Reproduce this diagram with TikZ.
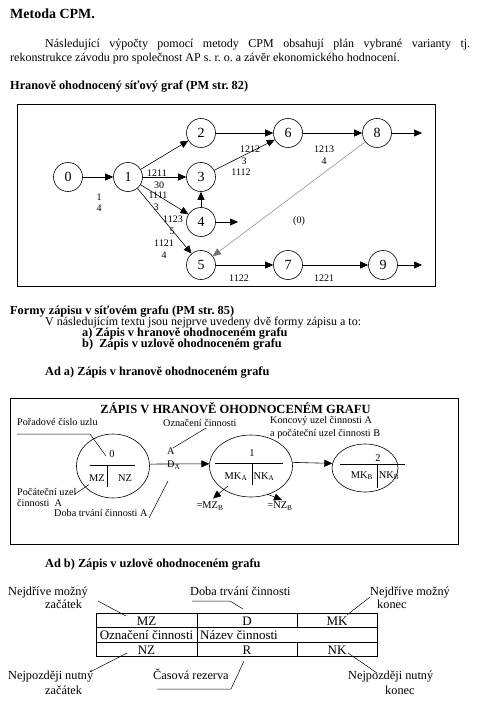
\documentclass[tikz,border=0pt]{standalone}
\usepackage{fontspec}
\setmainfont{Liberation Serif}
\usetikzlibrary{arrows.meta,shapes.geometric}
\frenchspacing
\begin{document}
\begin{tikzpicture}[x=1pt,y=-1pt,
  every node/.style={inner sep=0pt},
  body/.style={anchor=base west,font=\fontsize{12}{14}\selectfont},
  bhead/.style={anchor=base west,font=\fontsize{12.3}{14}\selectfont\bfseries},
  circ/.style={circle,draw,line width=0.6pt,minimum size=29pt,font=\fontsize{14}{14}\selectfont},
  arr/.style={-{Triangle[length=8pt,width=7pt]},line width=0.6pt},
  dotarr/.style={-{Triangle[length=8pt,width=7pt]},line width=0.4pt,draw=black!55},
  elbl/.style={anchor=base,font=\fontsize{10}{10}\selectfont},
  small/.style={anchor=base west,font=\fontsize{10.2}{12}\selectfont},
  smallc/.style={anchor=base,font=\fontsize{10.4}{12}\selectfont},
  tcell/.style={anchor=base,font=\fontsize{13}{14}\selectfont},
  call/.style={anchor=base west,font=\fontsize{12.3}{14}\selectfont},
  thinl/.style={line width=0.5pt},
  ell/.style={ellipse,draw,line width=0.6pt},
]
\useasboundingbox (0,0) rectangle (478,727);
\fill[white] (0,0) rectangle (478,727);

% ---------- header ----------
\node[anchor=base west,font=\fontsize{14}{16}\selectfont\bfseries] (title) at (10,18.3) {Metoda CPM.};
\node[body] (p1) at (45,47.5) {\makebox[425pt][s]{Následující výpočty pomocí metody CPM obsahují plán vybrané varianty tj.}};
\node[body] (p2) at (10,62) {rekonstrukce závodu pro společnost AP s. r. o. a závěr ekonomického hodnocení.};
\node[bhead] (h1) at (10,89.5) {Hranově ohodnocený síťový graf (PM str. 82)};

% ---------- network graph ----------
\draw[line width=0.8pt] (17,104) rectangle (435,286);
\node[circ] (n0) at (68,177) {0};
\node[circ] (n1) at (128,177) {1};
\node[circ] (n2) at (201,133) {2};
\node[circ] (n3) at (201,177) {3};
\node[circ] (n4) at (201,222) {4};
\node[circ] (n5) at (201,265) {5};
\node[circ] (n6) at (288,133) {6};
\node[circ] (n8) at (377,133) {8};
\node[circ] (n7) at (288,265) {7};
\node[circ] (n9) at (383,265) {9};
\coordinate (s4) at (238,222);
\coordinate (s8) at (422,133);
\coordinate (s9) at (422,265);

\draw[arr] (n0) -- (n1);
\draw[arr] (n1) -- (n2);
\draw[arr] (n1) -- (n3);
\draw[arr] (n1) -- (n4);
\draw[arr] (n1) -- (n5);
\draw[arr] (n4) -- (n3);
\draw[arr] (n4) -- (s4);
\draw[arr] (n2) -- (n6);
\draw[arr] (n3) -- (n6);
\draw[arr] (n6) -- (n8);
\draw[arr] (n8) -- (s8);
\draw[dotarr] (n8) -- (n5);
\draw[arr] (n5) -- (n7);
\draw[arr] (n7) -- (n9);
\draw[arr] (n9) -- (s9);

\node[elbl] (l01a) at (99,200.5) {1};
\node[elbl] (l01b) at (99,211.5) {4};
\node[elbl] (l13a) at (157,176.5) {1211};
\node[elbl] (l13b) at (159,188.5) {30};
\node[elbl] (l14a) at (158,198.5) {1111};
\node[elbl] (l14b) at (156,210.5) {3};
\node[elbl] (l15a) at (173,222.5) {1123};
\node[elbl] (l15b) at (172,234.5) {5};
\node[elbl] (l15c) at (164,246.5) {1121};
\node[elbl] (l15d) at (164,258.5) {4};
\node[elbl] (l36a) at (250,152.5) {1212};
\node[elbl] (l36b) at (244,164.5) {3};
\node[elbl] (l36c) at (241,175.5) {1112};
\node[elbl] (l68a) at (324,152.5) {1213};
\node[elbl] (l68b) at (324,164.5) {4};
\node[elbl] (l85) at (299,223.5) {(0)};
\node[elbl] (l57) at (239,281.5) {1122};
\node[elbl] (l79) at (324,281.5) {1221};

% ---------- section 2 ----------
\node[bhead] (h2) at (10,314) {Formy zápisu v síťovém grafu (PM str. 85)};
\node[body] (p3) at (45,325) {V následujícím textu jsou nejprve uvedeny dvě formy zápisu a to:};
\node[bhead] (ia) at (82,336.7) {a) Zápis v hranově ohodnoceném grafu};
\node[bhead] (ib) at (82,347.7) {b)\ \ Zápis v uzlově ohodnoceném grafu};
\node[bhead] (h3) at (45,375.7) {Ad a) Zápis v hranově ohodnoceném grafu};

\draw[line width=0.8pt] (10,398) rectangle (458,544);
\node[anchor=base,font=\fontsize{12.5}{14}\selectfont\bfseries] (t2) at (235.5,413.3) {ZÁPIS V HRANOVĚ OHODNOCENÉM GRAFU};

\node[ell,minimum width=73pt,minimum height=64pt] (e0) at (113,466) {};
\node[ell,minimum width=83pt,minimum height=62pt] (e1) at (251,466) {};
\node[ell,minimum width=66pt,minimum height=48pt] (e2) at (365,468) {};

\draw[thinl] (90,465) -- (135,465) (107,465) -- (107,487);
\draw[thinl] (215,463) -- (283,463) (252,463) -- (252,485);
\draw[thinl] (340,464) -- (405,464) (377,464) -- (377,488);

\node[smallc] (e0n) at (112,457.7) {0};
\node[smallc] (e0a) at (97,481) {MZ};
\node[smallc] (e0b) at (125,481) {NZ};
\node[smallc] (e1n) at (252,456) {1};
\node[smallc] (e1a) at (236,479) {MK\textsubscript{A}};
\node[smallc] (e1b) at (264,479) {NK\textsubscript{A}};
\node[smallc] (e2n) at (378,461) {2};
\node[smallc] (e2a) at (362,478.3) {MK\textsubscript{B}};
\node[smallc] (e2b) at (389,478.3) {NK\textsubscript{B}};

\draw[arr] (e0.3) -- (e1.177);
\draw[arr] (e1.5) -- (e2.172);

\node[small] (la) at (167,454.3) {A};
\node[small] (lda) at (167,467.7) {D\textsubscript{A}};

\node[small] (lpor) at (17,425.7) {Pořadové číslo uzlu};
\coordinate (cpor1) at (17,434);
\coordinate (cpor2) at (90,434);
\coordinate (cpor3) at (106,456);
\draw[thinl] (cpor1) -- (cpor2) -- (cpor3);

\node[small] (lozn) at (163,426) {Označení činnosti};
\coordinate (cozn1) at (206,428);
\coordinate (cozn2) at (173,448);
\draw[thinl] (cozn1) -- (cozn2);

\node[small] (lkon1) at (270,423.3) {Koncový uzel činnosti A};
\node[small] (lkon2) at (270,436.7) {a počáteční uzel činnosti B};

\node[small] (lpoc1) at (17,495) {Počáteční uzel};
\node[small] (lpoc2) at (17,506.7) {činnosti\ \ A};
\coordinate (cpoc1) at (75,494);
\coordinate (cpoc2) at (89,484.5);
\draw[thinl] (cpoc1) -- (cpoc2);

\node[small] (ldoba) at (54,516.7) {Doba trvání činnosti A};
\coordinate (cdob1) at (149,518);
\coordinate (cdob2) at (168,481);
\draw[thinl] (cdob1) -- (cdob2);

\node[smallc] (mzb) at (210,508.7) {=MZ\textsubscript{B}};
\node[smallc] (nzb) at (280,508.7) {=NZ\textsubscript{B}};
\coordinate (cmz1) at (228,486);
\coordinate (cmz2) at (213,498.5);
\coordinate (cnz1) at (267,494);
\coordinate (cnz2) at (282,500);
\draw[arr,line width=0.5pt] (cmz1) -- (cmz2);
\draw[arr,line width=0.5pt] (cnz1) -- (cnz2);

% ---------- section 3 ----------
\node[bhead] (h4) at (45,567.3) {Ad b) Zápis v uzlově ohodnoceném grafu};

\draw[thinl] (96,613) -- (377,613) (96,627.5) -- (377,627.5) (96,642) -- (377,642) (96,656.5) -- (377,656.5);
\draw[thinl] (96,613) -- (96,656.5) (377,613) -- (377,656.5) (197,613) -- (197,656.5) (297,613) -- (297,627.5) (297,642) -- (297,656.5);

\node[tcell] (mz) at (146.5,625.5) {MZ};
\node[tcell] (dd) at (247,625.5) {D};
\node[tcell] (mk) at (337,625.5) {MK};
\node[tcell] (oc) at (146.5,639.5) {Označení činnosti};
\node[tcell,anchor=base west] (nc) at (200,639.5) {Název činnosti};
\node[tcell] (nz) at (146.5,654) {NZ};
\node[tcell] (rr) at (247,654) {R};
\node[tcell] (nk) at (337,654) {NK};

\node[call] (lnmz1) at (8,595) {Nejdříve možný};
\node[call] (lnmz2) at (45,608.3) {začátek};
\coordinate (cnmz1) at (98,601);
\coordinate (cnmz2) at (126,616);
\draw[thinl] (cnmz1) -- (cnmz2);

\node[call] (ldt) at (190,595) {Doba trvání činnosti};
\coordinate (cdt1) at (192,601);
\coordinate (cdt2) at (230,601);
\coordinate (cdt3) at (243,609);
\draw[thinl] (cdt1) -- (cdt2) -- (cdt3);

\node[call] (lnmk1) at (370,595) {Nejdříve možný};
\node[call] (lnmk2) at (377,608.3) {konec};
\coordinate (cnmk1) at (370,597);
\coordinate (cnmk2) at (347,615);
\draw[thinl] (cnmk1) -- (cnmk2);

\node[call] (lnnz1) at (8,679.3) {Nejpozději nutný};
\node[call] (lnnz2) at (45,694) {začátek};
\coordinate (cnnz1) at (90,672);
\coordinate (cnnz2) at (127,653);
\draw[thinl] (cnnz1) -- (cnnz2);

\node[call] (lcr) at (153,679.3) {Časová rezerva};
\coordinate (ccr1) at (157,689);
\coordinate (ccr2) at (231,689);
\coordinate (ccr3) at (244,661);
\draw[thinl] (ccr1) -- (ccr2) -- (ccr3);

\node[call] (lnnk1) at (348,679.3) {Nejpozději nutný};
\node[call] (lnnk2) at (385,694) {konec};
\coordinate (cnnk1) at (348,653);
\coordinate (cnnk2) at (377,673);
\draw[thinl] (cnnk1) -- (cnnk2);
\end{tikzpicture}
\end{document}
